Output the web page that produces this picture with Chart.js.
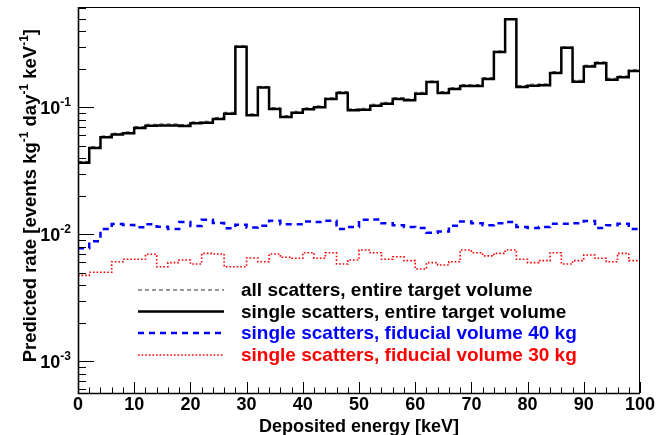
<!DOCTYPE html>
<html>
<head>
<meta charset="utf-8">
<script src="https://cdn.jsdelivr.net/npm/chart.js@4/dist/chart.umd.min.js"></script>
<style>
  html, body { margin: 0; padding: 0; background: #fff; }
  canvas { display: block; }
</style>
</head>
<body>
<canvas id="rate-chart" width="668" height="435"></canvas>
<script>
// predicted background rate vs deposited energy, 2 keV bins, 0-100 keV

const binWidth = 2;
const binEdges = Array.from({ length: 51 }, (_, i) => i * binWidth);

const seriesLabels = [
  "all scatters, entire target volume",
  "single scatters, entire target volume",
  "single scatters, fiducial volume 40 kg",
  "single scatters, fiducial volume 30 kg",
];
const legendTextColors = ["#000000", "#000000", "#0000ff", "#ff0000"];

// events / kg / day / keV, one value per bin
const allScatters = [
  0.0375, 0.049, 0.0595, 0.0625, 0.064, 0.0705, 0.0735, 0.074, 0.074, 0.0732,
  0.0768, 0.0777, 0.083, 0.0913, 0.305, 0.0888, 0.146, 0.0995, 0.086, 0.093,
  0.099, 0.1027, 0.119, 0.133, 0.0972, 0.0982, 0.1057, 0.1095, 0.119, 0.1165,
  0.1313, 0.161, 0.133, 0.1427, 0.151, 0.151, 0.1713, 0.278, 0.5, 0.1483,
  0.152, 0.153, 0.191, 0.299, 0.1632, 0.2145, 0.2278, 0.1693, 0.1765, 0.198,
];
const singleScatters = [
  0.0366, 0.0478, 0.058, 0.061, 0.0624, 0.0687, 0.0716, 0.072, 0.072, 0.0713,
  0.0748, 0.0757, 0.0809, 0.089, 0.3, 0.0865, 0.143, 0.097, 0.0838, 0.0907,
  0.0964, 0.1, 0.116, 0.1296, 0.0947, 0.0957, 0.103, 0.1067, 0.116, 0.1135,
  0.128, 0.158, 0.1296, 0.139, 0.147, 0.147, 0.167, 0.273, 0.493, 0.1445,
  0.148, 0.149, 0.186, 0.294, 0.159, 0.209, 0.222, 0.165, 0.172, 0.193,
];
const fiducial40 = [
  0.00776, 0.00881, 0.011, 0.01205, 0.01184, 0.01135, 0.012, 0.01148, 0.011, 0.0125,
  0.0116, 0.013, 0.0123, 0.01115, 0.0119, 0.0113, 0.0117, 0.0128, 0.012, 0.012,
  0.0126, 0.0125, 0.0128, 0.011, 0.0114, 0.013, 0.0131, 0.0122, 0.0118, 0.0114,
  0.0112, 0.0103, 0.0105, 0.0117, 0.0126, 0.0122, 0.0118, 0.0122, 0.0125, 0.0114,
  0.0112, 0.0114, 0.0121, 0.0121, 0.0122, 0.0127, 0.0112, 0.0118, 0.0121, 0.011,
];
const fiducial30 = [
  0.00475, 0.00502, 0.00502, 0.00608, 0.00636, 0.00636, 0.00696, 0.00556, 0.00598, 0.00628,
  0.00584, 0.00708, 0.007, 0.00556, 0.00556, 0.0065, 0.00608, 0.007, 0.00659, 0.00647,
  0.00716, 0.00647, 0.00716, 0.00584, 0.00628, 0.00752, 0.00716, 0.00636, 0.00666, 0.0062,
  0.00533, 0.00598, 0.00573, 0.00608, 0.00752, 0.00716, 0.00676, 0.00708, 0.00752, 0.00636,
  0.00598, 0.0062, 0.00716, 0.00584, 0.0062, 0.00687, 0.00647, 0.00608, 0.00708, 0.0062,
];

const xTickLabels = ["0", "10", "20", "30", "40", "50", "60", "70", "80", "90", "100"];
const yDecades = [-3, -2, -1];

const FONT = '"Liberation Sans", Arial, Helvetica, sans-serif';

// histogram as step line: point at each lower edge, plus closing point at the top edge
function toSteps(values) {
  const pts = values.map((v, i) => ({ x: binEdges[i], y: v }));
  pts.push({ x: binEdges[values.length], y: values[values.length - 1] });
  return pts;
}

// "10" with a raised exponent, right aligned at x
function drawPower(ctx, base, exp, x, y) {
  ctx.font = "bold 18px " + FONT;
  const wb = ctx.measureText(base).width;
  ctx.font = "bold 12px " + FONT;
  const we = ctx.measureText(exp).width;
  const x0 = x - wb - we;
  ctx.textAlign = "left";
  ctx.textBaseline = "alphabetic";
  ctx.font = "bold 18px " + FONT;
  ctx.fillText(base, x0, y);
  ctx.font = "bold 12px " + FONT;
  ctx.fillText(exp, x0 + wb, y - 8);
}

const histoFrame = {
  id: "histoFrame",
  afterDatasetsDraw(chart) {
    const { ctx, chartArea: a } = chart;
    const xs = chart.scales.x;
    const ys = chart.scales.y;
    ctx.save();
    ctx.strokeStyle = "#000";

    // frame
    ctx.lineWidth = 1;
    ctx.strokeRect(a.left + 0.5, a.top + 0.5, a.right - a.left - 1, a.bottom - a.top);
    ctx.lineWidth = 1.6;
    ctx.beginPath();
    ctx.moveTo(a.left + 0.5, a.top);
    ctx.lineTo(a.left + 0.5, a.bottom + 0.5);
    ctx.lineTo(a.right, a.bottom + 0.5);
    ctx.stroke();

    // x ticks, inside, every 2 keV
    ctx.lineWidth = 1;
    ctx.beginPath();
    for (let v = 0; v <= 100; v += 2) {
      const px = Math.round(xs.getPixelForValue(v)) + 0.5;
      const len = v % 10 === 0 ? 11 : 5.5;
      ctx.moveTo(px, a.bottom);
      ctx.lineTo(px, a.bottom - len);
    }
    // y ticks, log minor + major
    yDecades.concat([-4, 0]).forEach((d) => {
      for (let k = 1; k <= 9; k++) {
        const v = k * Math.pow(10, d);
        if (v < ys.min || v > ys.max) continue;
        const py = Math.round(ys.getPixelForValue(v)) + 0.5;
        const len = k === 1 ? 16 : 8;
        ctx.moveTo(a.left, py);
        ctx.lineTo(a.left + len, py);
      }
    });
    ctx.stroke();

    // tick labels
    ctx.fillStyle = "#000";
    ctx.font = "bold 18px " + FONT;
    ctx.textAlign = "center";
    ctx.textBaseline = "alphabetic";
    xTickLabels.forEach((t, i) => {
      ctx.fillText(t, xs.getPixelForValue(i * 10), 410);
    });
    yDecades.forEach((d) => {
      const py = ys.getPixelForValue(Math.pow(10, d));
      drawPower(ctx, "10", String(d), 71, py + 7);
    });

    // axis titles
    ctx.font = "bold 18px " + FONT;
    ctx.textAlign = "center";
    ctx.fillText("Deposited energy [keV]", (a.left + a.right) / 2, 432);

    ctx.save();
    ctx.translate(36, 29);
    ctx.rotate(-Math.PI / 2);
    const parts = [
      ["Predicted rate [events kg", false], ["-1", true], [" day", false],
      ["-1", true], [" keV", false], ["-1", true], ["]", false],
    ];
    let total = 0;
    parts.forEach(([s, sup]) => {
      ctx.font = (sup ? "bold 12px " : "bold 18.5px ") + FONT;
      total += ctx.measureText(s).width;
    });
    let cx = -total;
    ctx.textAlign = "left";
    parts.forEach(([s, sup]) => {
      ctx.font = (sup ? "bold 12px " : "bold 18.5px ") + FONT;
      ctx.fillText(s, cx, sup ? -8 : 0);
      cx += ctx.measureText(s).width;
    });
    ctx.restore();

    // legend inside the frame
    const rows = [290, 311.5, 333, 355];
    chart.data.datasets.forEach((ds, i) => {
      const yy = rows[i];
      ctx.strokeStyle = ds.legendColor || ds.borderColor;
      ctx.lineWidth = ds.borderWidth;
      ctx.setLineDash(ds.legendDash || ds.borderDash || []);
      ctx.beginPath();
      ctx.moveTo(138, yy);
      ctx.lineTo(224, yy);
      ctx.stroke();
      ctx.setLineDash([]);
      ctx.fillStyle = legendTextColors[i];
      ctx.font = "bold 19px " + FONT;
      ctx.textAlign = "left";
      ctx.textBaseline = "middle";
      ctx.fillText(ds.label, 241, yy + 1);
    });
    ctx.restore();
  },
};

const ctx = document.getElementById("rate-chart").getContext("2d");
new Chart(ctx, {
  type: "line",
  data: {
    datasets: [
      {
        label: seriesLabels[0],
        data: toSteps(allScatters),
        borderColor: "#555555",
        legendColor: "#333333",
        borderWidth: 1,
        borderDash: [4, 3],
        order: 2,
      },
      {
        label: seriesLabels[1],
        data: toSteps(singleScatters),
        borderColor: "#000000",
        borderWidth: 2.5,
        order: 1,
      },
      {
        label: seriesLabels[2],
        data: toSteps(fiducial40),
        borderColor: "#0000ff",
        borderWidth: 2.5,
        borderDash: [6, 5],
        order: 3,
      },
      {
        label: seriesLabels[3],
        data: toSteps(fiducial30),
        borderColor: "#ff0000",
        borderWidth: 1.6,
        borderDash: [1.6, 2],
        order: 4,
      },
    ],
  },
  options: {
    responsive: false,
    animation: false,
    devicePixelRatio: 1,
    layout: { padding: { left: 78, right: 28, top: 7, bottom: 42 } },
    elements: {
      point: { radius: 0, hoverRadius: 0 },
      line: { stepped: "before", tension: 0, fill: false, borderCapStyle: "butt" },
    },
    plugins: {
      legend: { display: false },
      tooltip: { enabled: false },
    },
    scales: {
      x: { type: "linear", min: 0, max: 100, display: false },
      y: { type: "logarithmic", min: 5.63e-4, max: 0.616, display: false },
    },
  },
  plugins: [histoFrame],
});
</script>
</body>
</html>
